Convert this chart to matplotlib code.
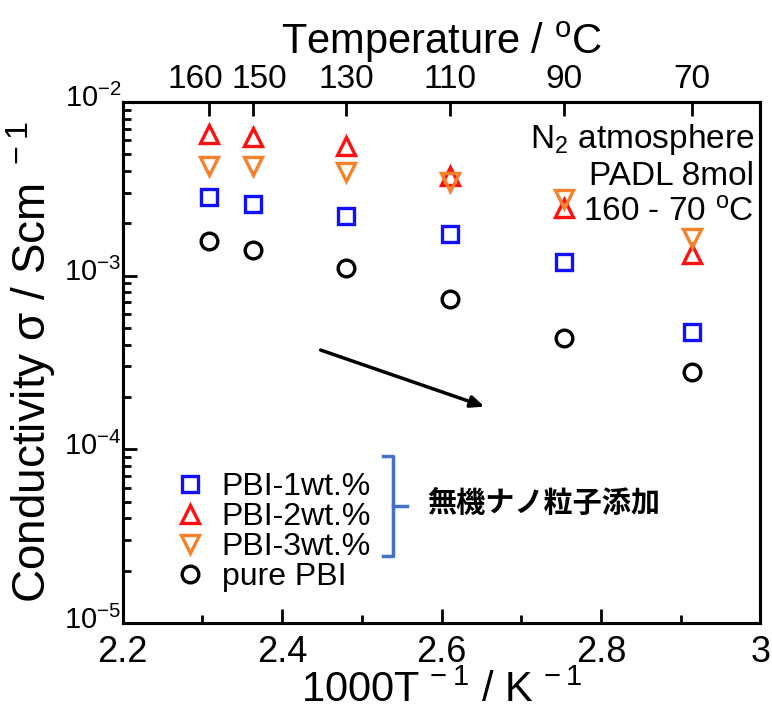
import matplotlib
matplotlib.use("Agg")
import matplotlib.pyplot as plt
import matplotlib.transforms as mtransforms
import numpy as np
from matplotlib.ticker import LogLocator, NullFormatter, MultipleLocator, FixedLocator

BASE = "Liberation Sans"
plt.rcParams["font.family"] = [BASE, "DejaVu Sans"]
plt.rcParams["mathtext.fontset"] = "custom"
plt.rcParams["mathtext.rm"] = BASE
plt.rcParams["mathtext.default"] = "regular"

temps_c = [160, 150, 130, 110, 90, 70]
inv_t = [1000.0 / (t + 273.15) for t in temps_c]

pbi_1wt = [2.82e-3, 2.57e-3, 2.19e-3, 1.74e-3, 1.19e-3, 4.72e-4]
pbi_2wt = [6.5e-3, 6.25e-3, 5.55e-3, 3.75e-3, 2.45e-3, 1.33e-3]
pbi_3wt = [4.25e-3, 4.25e-3, 3.95e-3, 3.45e-3, 2.75e-3, 1.65e-3]
pure_pbi = [1.59e-3, 1.41e-3, 1.11e-3, 7.3e-4, 4.35e-4, 2.8e-4]

fig = plt.figure(figsize=(7.72, 7.12), dpi=100)
ax = fig.add_axes([0.159, 0.125, 0.826, 0.732])

kw = dict(linestyle="none", markerfacecolor="none", markeredgewidth=2.4)
ax.plot(inv_t, pbi_1wt, marker="s", markersize=12, color="#1010ff", label="PBI-1wt.%", **kw)
ax.plot(inv_t, pbi_2wt, marker="^", markersize=13, color="#ff1010", label="PBI-2wt.%", **kw)
ax.plot(inv_t, pbi_3wt, marker="v", markersize=13, color="#f5822a", label="PBI-3wt.%", **kw)
ax.plot(inv_t, pure_pbi, marker="o", markersize=12, color="black", label="pure PBI", **kw)

ax.set_yscale("log")
ax.set_xlim(2.2, 3.0)
ax.set_ylim(1e-5, 1e-2)

ax.xaxis.set_minor_locator(MultipleLocator(0.1))
ax.set_xticks([2.2, 2.4, 2.6, 2.8, 3.0], ["2.2", "2.4", "2.6", "2.8", "3"])
ax.yaxis.set_minor_locator(LogLocator(base=10, subs=np.arange(2, 10), numticks=20))
ax.yaxis.set_minor_formatter(NullFormatter())
ax.set_yticks([1e-5, 1e-4, 1e-3, 1e-2],
              [r"$10^{-5}$", r"$10^{-4}$", r"$10^{-3}$", r"$10^{-2}$"])

ax.tick_params(axis="both", which="both", direction="in", width=2, top=False, right=False)
ax.tick_params(axis="x", which="major", length=10, labelsize=26, pad=9)
ax.tick_params(axis="x", which="minor", length=6)
ax.tick_params(axis="y", which="major", length=10, labelsize=21, pad=1)
ax.tick_params(axis="y", which="minor", length=6)
for s in ax.spines.values():
    s.set_linewidth(2.2)
shift_up = mtransforms.ScaledTranslation(0, 6 / 100, fig.dpi_scale_trans)
for lab in ax.get_yticklabels():
    lab.set_transform(lab.get_transform() + shift_up)

ax.set_xlabel(r"1000T$^{\,-1}$ / K$^{\,-1}$", fontsize=30, labelpad=0)
ax.set_ylabel(r"Conductivity σ / Scm$^{\ -1}$", fontsize=33, labelpad=4)

top = ax.twiny()
top.set_xlim(ax.get_xlim())
top.xaxis.set_major_locator(FixedLocator(inv_t))
top.set_xticklabels([str(t) for t in temps_c])
top.tick_params(axis="x", which="major", direction="in", length=10, width=2, labelsize=24, pad=5)
top.set_xlabel(r"Temperature / $^{o}$C", fontsize=30, labelpad=7)
for s in top.spines.values():
    s.set_linewidth(2.2)
# nudge the 160 and 150 labels apart, like the original
shift_l = mtransforms.ScaledTranslation(-14 / 100, 0, fig.dpi_scale_trans)
shift_r = mtransforms.ScaledTranslation(6 / 100, 0, fig.dpi_scale_trans)
labels = top.get_xticklabels()
labels[0].set_transform(labels[0].get_transform() + shift_l)
labels[1].set_transform(labels[1].get_transform() + shift_r)

ax.text(0.99, 0.927, r"N$_2$ atmosphere", transform=ax.transAxes, ha="right", va="center", fontsize=24)
ax.text(0.99, 0.857, "PADL 8mol", transform=ax.transAxes, ha="right", va="center", fontsize=24)
ax.text(0.99, 0.787, r"160 - 70 $^{o}$C", transform=ax.transAxes, ha="right", va="center", fontsize=24)

ax.annotate("", xy=(2.657, 1.74e-4), xytext=(2.445, 3.77e-4),
            arrowprops=dict(arrowstyle="-|>,head_length=0.8,head_width=0.35", color="black", lw=2.5))

ax.legend(loc="lower left", bbox_to_anchor=(0.055, 0.035), frameon=False, fontsize=23,
          handletextpad=0.4, labelspacing=0.0, handlelength=1.2, borderaxespad=0)

# bracket
fx = lambda px: px / 772
fy = lambda py: 1 - py / 712
fig.add_artist(plt.Line2D([fx(383), fx(393), fx(393), fx(383)], [fy(456), fy(456), fy(556), fy(556)],
                          color="#4472c4", lw=2.5, transform=fig.transFigure))
fig.add_artist(plt.Line2D([fx(393), fx(407)], [fy(506), fy(506)],
                          color="#4472c4", lw=2.5, transform=fig.transFigure))
fig.text(fx(427), fy(503), "無機ナノ粒子添加", fontsize=21, fontweight="bold",
         family=["Noto Sans CJK JP", "DejaVu Sans"], ha="left", va="center")

fig.savefig("out.png", dpi=100)
